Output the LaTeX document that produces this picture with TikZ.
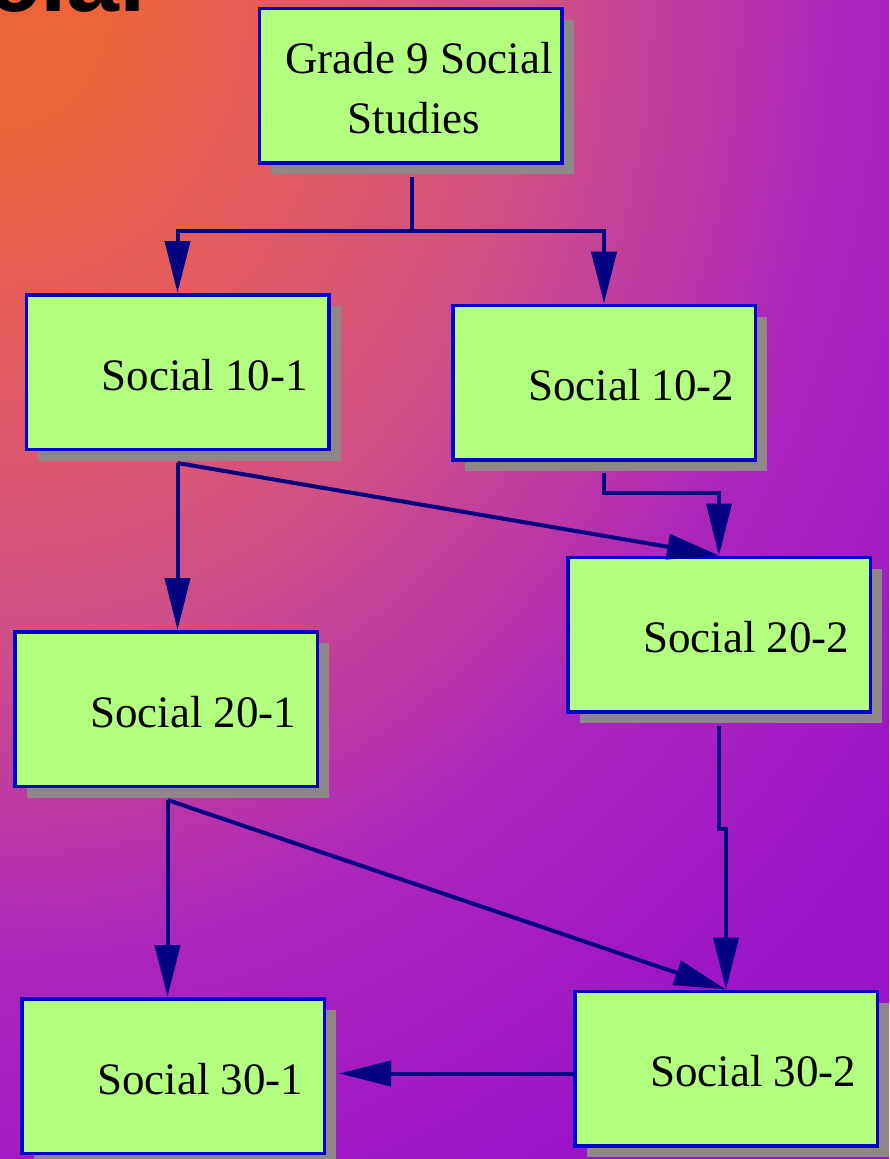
\documentclass[tikz,border=0pt]{standalone}
\usepackage{fontspec}
\setmainfont{Liberation Serif}
\newfontfamily\titlefont{Liberation Sans}
\usetikzlibrary{arrows.meta,shadows,calc}
\definecolor{bgA}{RGB}{236,100,55}
\definecolor{bgB}{RGB}{226,92,98}
\definecolor{bgC}{RGB}{207,80,135}
\definecolor{bgD}{RGB}{172,38,188}
\definecolor{bgE}{RGB}{155,20,200}
\definecolor{boxgreen}{RGB}{179,255,128}
\definecolor{boxblue}{RGB}{0,0,205}
\definecolor{shadowgray}{RGB}{143,135,135}
\definecolor{navyline}{RGB}{0,0,128}
\pgfdeclareradialshading{bgshade}{\pgfpoint{0bp}{0bp}}{color(0bp)=(bgA); color(2bp)=(bgA); color(6bp)=(bgB); color(10.5bp)=(bgC); color(16bp)=(bgD); color(22bp)=(bgE); color(50bp)=(bgE)}
\begin{document}
\begin{tikzpicture}[x=1pt,y=1pt,
  box/.style={draw=boxblue, line width=3.5pt, fill=boxgreen, minimum width=302.5pt, minimum height=154.5pt, inner sep=0pt,
    general shadow={fill=shadowgray, shadow xshift=12pt, shadow yshift=-11.5pt}},
  lbl/.style={font=\fontsize{45}{45}\selectfont, inner sep=0pt, anchor=base east},
  conn/.style={draw=navyline, line width=4pt, line join=miter, -{Triangle[length=52pt,width=25pt]}}]
\useasboundingbox (0,0) rectangle (889,-1159);
\begin{scope}
\clip (0,0) rectangle (889,-1159);
\shade[shading=bgshade] (-1300,1500) rectangle (1300,-1500);
\end{scope}
\node[font=\titlefont\bfseries\fontsize{95}{95}\selectfont, anchor=base east, inner sep=0pt] (title) at (146,-11) {Social};

\node[box] (g9) at (410.5,-85.5) {};
\node[box] (s101) at (177.5,-372) {};
\node[box] (s102) at (604,-382.5) {};
\node[box] (s202) at (719,-634.5) {};
\node[box] (s201) at (166,-709) {};
\node[box] (s301) at (173,-1076) {};
\node[box] (s302) at (726,-1068.5) {};

\node[lbl, anchor=base] (g9a) at (419,-73) {Grade 9 Social};
\node[lbl, anchor=base] (g9b) at (414,-133) {Studies};
\node[lbl] (t101) at ($(s101.east)+(-22.5,-18)$) {Social 10-1};
\node[lbl] (t102) at ($(s102.east)+(-22.5,-18)$) {Social 10-2};
\node[lbl] (t202) at ($(s202.east)+(-22.5,-18)$) {Social 20-2};
\node[lbl] (t201) at ($(s201.east)+(-22.5,-18)$) {Social 20-1};
\node[lbl] (t301) at ($(s301.east)+(-22.5,-18)$) {Social 30-1};
\node[lbl] (t302) at ($(s302.east)+(-22.5,-18)$) {Social 30-2};

\coordinate (j0) at ($(g9.south)+(1.5,-66)$);
\draw[conn] ($(g9.south)+(1.5,-12)$) -- (j0) -| (s101.north);
\draw[conn] (j0) -| (s102.north);
\draw[conn] ($(s101.south)+(0,-12)$) -- (s101.south |- s201.north);
\draw[conn] ($(s101.south)+(0,-12)$) -- (s202.north);
\draw[conn] ($(s102.south)+(0,-11)$) -- ++(0,-20) -| (s202.north);
\draw[conn] ($(s201.south)+(1.5,-12)$) -- ($(s201.south |- s301.north)+(1.5,0)$);
\draw[conn] ($(s201.south)+(1.5,-12)$) -- (s302.north);
\draw[conn] ($(s202.south)+(0,-12)$) -- ++(0,-103) -| (s302.north);
\coordinate (e301) at ($(s301.east)+(13,0)$);
\coordinate (w302) at ($(s302.west)+(0,-5)$);
\draw[conn] (w302) -- (e301 |- w302);
\end{tikzpicture}
\end{document}
